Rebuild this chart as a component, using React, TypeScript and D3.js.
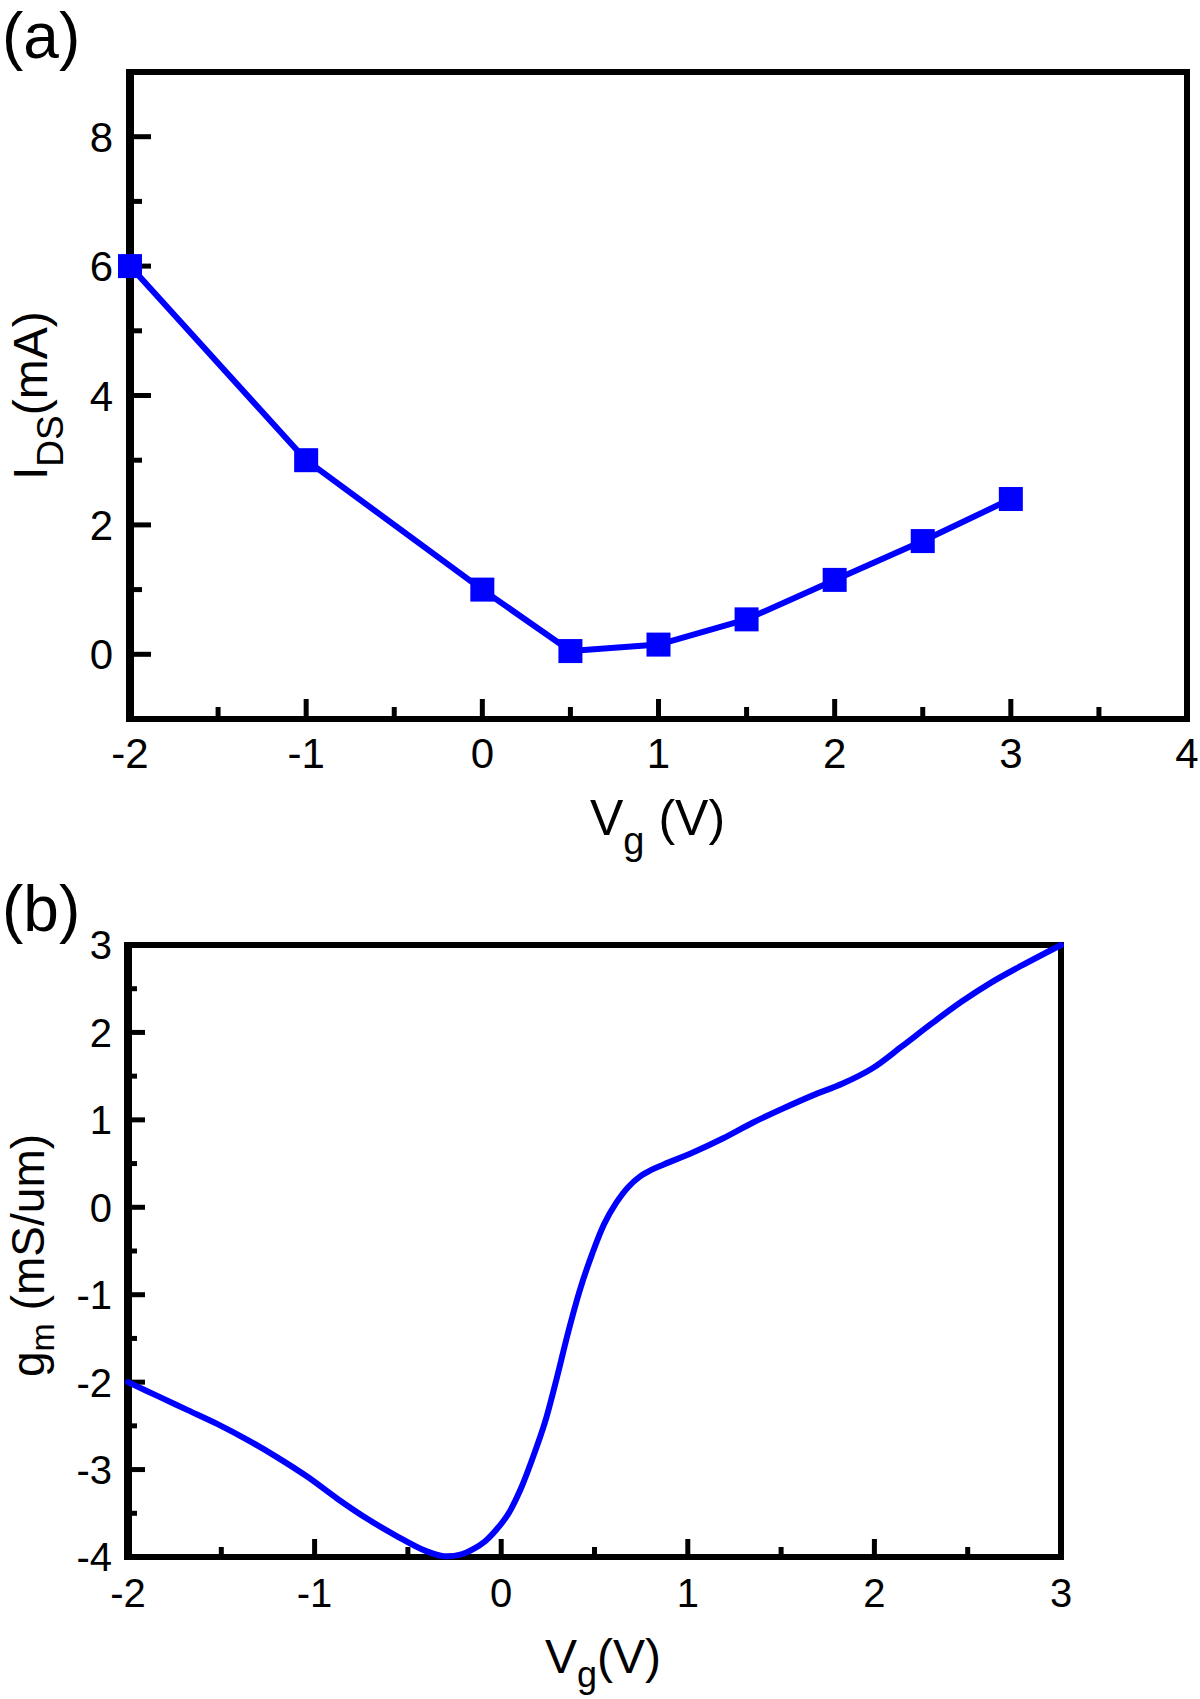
import React from "react";
import * as d3 from "d3";

// Panel (a): I_DS vs Vg
const vgA = [-2, -1, 0, 0.5, 1, 1.5, 2, 2.5, 3];
const idsA = [6.0, 3.0, 1.0, 0.05, 0.15, 0.54, 1.15, 1.75, 2.4];
const aYMajor = [0, 2, 4, 6, 8];
const aYMinor = [1, 3, 5, 7];
const aXMajor = [-2, -1, 0, 1, 2, 3, 4];
const aXMinor = [-1.5, -0.5, 0.5, 1.5, 2.5, 3.5];

// Panel (b): gm vs Vg
const vgB = [-2, -1.84, -1.68, -1.52, -1.36, -1.2, -1.04, -0.88, -0.72, -0.56, -0.405, -0.31, -0.214, -0.15, -0.086, 0.0, 0.04, 0.105, 0.17, 0.233, 0.297, 0.36, 0.424, 0.488, 0.552, 0.616, 0.68, 0.743, 0.807, 0.871, 1.03, 1.19, 1.35, 1.51, 1.67, 1.83, 1.99, 2.147, 2.306, 2.466, 2.625, 2.785, 3.0];
const gmB = [-2.0, -2.16, -2.32, -2.48, -2.66, -2.86, -3.08, -3.33, -3.56, -3.76, -3.93, -3.99, -3.97, -3.91, -3.82, -3.62, -3.5, -3.22, -2.86, -2.47, -1.96, -1.42, -0.93, -0.53, -0.19, 0.05, 0.23, 0.35, 0.43, 0.49, 0.63, 0.79, 0.97, 1.13, 1.28, 1.415, 1.59, 1.84, 2.1, 2.35, 2.57, 2.76, 3.0];
const bYLabels = [-4, -3, -2, -1, 0, 1, 2, 3];
const bYMajor = [-3, -2, -1, 0, 1, 2];
const bYMinor = [-3.5, -2.5, -1.5, -0.5, 0.5, 1.5, 2.5];
const bXLabels = [-2, -1, 0, 1, 2, 3];
const bXMajor = [-1, 0, 1, 2];
const bXMinor = [-1.5, -0.5, 0.5, 1.5, 2.5];

const FONT = "'Liberation Sans', Arial, Helvetica, sans-serif";
const BLUE = "#0000ff";

export default function App() {
  const xa = d3.scaleLinear().domain([-2, 4]).range([130, 1187]);
  const ya = d3.scaleLinear().domain([-1, 9]).range([719, 72]);
  const xb = d3.scaleLinear().domain([-2, 3]).range([128, 1061]);
  const yb = d3.scaleLinear().domain([-4, 3]).range([1557, 945]);

  const lineA = d3
    .line<number>()
    .x((_, i) => xa(vgA[i]))
    .y((d) => ya(d))(idsA);

  const lineB = d3
    .line<number>()
    .x((_, i) => xb(vgB[i]))
    .y((d) => yb(d))
    .curve(d3.curveCatmullRom.alpha(0.5))(gmB);

  const sq = 24;

  return (
    <svg
      width={1200}
      height={1699}
      style={{ position: "absolute", left: 0, top: 0, background: "#fff" }}
      fontFamily={FONT}
    >
      <rect x={0} y={0} width={1200} height={1699} fill="#fff" />

      {/* ---------- Panel (a) ---------- */}
      <text x={2} y={58} fontSize={64} fill="#000">(a)</text>

      {aYMajor.map((v) => (
        <line key={"aym" + v} x1={xa(-2)} x2={xa(-2) + 21} y1={ya(v)} y2={ya(v)} stroke="#000" strokeWidth={5} />
      ))}
      {aYMinor.map((v) => (
        <line key={"ayn" + v} x1={xa(-2)} x2={xa(-2) + 12} y1={ya(v)} y2={ya(v)} stroke="#000" strokeWidth={5} />
      ))}
      {aXMajor.map((v) => (
        <line key={"axm" + v} x1={xa(v)} x2={xa(v)} y1={ya(-1)} y2={ya(-1) - 20} stroke="#000" strokeWidth={5} />
      ))}
      {aXMinor.map((v) => (
        <line key={"axn" + v} x1={xa(v)} x2={xa(v)} y1={ya(-1)} y2={ya(-1) - 12} stroke="#000" strokeWidth={5} />
      ))}
      <rect
        x={xa(-2)}
        y={ya(9)}
        width={xa(4) - xa(-2)}
        height={ya(-1) - ya(9)}
        fill="none"
        stroke="#000"
        strokeWidth={6}
      />
      <line x1={xa(-2)} x2={xa(-2)} y1={ya(9) - 3} y2={ya(-1) + 3} stroke="#000" strokeWidth={8} />

      {aYMajor.map((v) => (
        <text key={"ayl" + v} x={113} y={ya(v)} dy="0.36em" textAnchor="end" fontSize={42}>
          {String(v)}
        </text>
      ))}
      {aXMajor.map((v) => (
        <text key={"axl" + v} x={xa(v)} y={768} textAnchor="middle" fontSize={42}>
          {String(v)}
        </text>
      ))}

      <path d={lineA || ""} fill="none" stroke={BLUE} strokeWidth={6} strokeLinejoin="round" />
      {vgA.map((v, i) => (
        <rect key={"sq" + i} x={xa(v) - sq / 2} y={ya(idsA[i]) - sq / 2} width={sq} height={sq} fill={BLUE} />
      ))}

      <text transform="translate(47,480) rotate(-90)" fontSize={48}>
        <tspan>I</tspan>
        <tspan fontSize={37} dy={16}>DS</tspan>
        <tspan dy={-16}>(mA)</tspan>
      </text>
      <text x={590} y={835} fontSize={50}>
        <tspan>V</tspan>
        <tspan fontSize={38} dy={19}>g</tspan>
        <tspan dy={-19}> (V)</tspan>
      </text>

      {/* ---------- Panel (b) ---------- */}
      <text x={2} y={931} fontSize={64} fill="#000">(b)</text>

      {bYMajor.map((v) => (
        <line key={"bym" + v} x1={xb(-2)} x2={xb(-2) + 17} y1={yb(v)} y2={yb(v)} stroke="#000" strokeWidth={5} />
      ))}
      {bYMinor.map((v) => (
        <line key={"byn" + v} x1={xb(-2)} x2={xb(-2) + 9} y1={yb(v)} y2={yb(v)} stroke="#000" strokeWidth={5} />
      ))}
      {bXMajor.map((v) => (
        <line key={"bxm" + v} x1={xb(v)} x2={xb(v)} y1={yb(-4)} y2={yb(-4) - 18} stroke="#000" strokeWidth={5} />
      ))}
      {bXMinor.map((v) => (
        <line key={"bxn" + v} x1={xb(v)} x2={xb(v)} y1={yb(-4)} y2={yb(-4) - 10} stroke="#000" strokeWidth={5} />
      ))}
      <rect
        x={xb(-2)}
        y={yb(3)}
        width={xb(3) - xb(-2)}
        height={yb(-4) - yb(3)}
        fill="none"
        stroke="#000"
        strokeWidth={6}
      />
      <line x1={xb(-2)} x2={xb(-2)} y1={yb(3) - 3} y2={yb(-4) + 3} stroke="#000" strokeWidth={8} />

      {bYLabels.map((v) => (
        <text key={"byl" + v} x={112} y={yb(v)} dy="0.36em" textAnchor="end" fontSize={40}>
          {String(v)}
        </text>
      ))}
      {bXLabels.map((v) => (
        <text key={"bxl" + v} x={xb(v)} y={1607} textAnchor="middle" fontSize={40}>
          {String(v)}
        </text>
      ))}

      <path d={lineB || ""} fill="none" stroke={BLUE} strokeWidth={6} strokeLinejoin="round" strokeLinecap="round" />

      <text transform="translate(44,1377) rotate(-90)" fontSize={46}>
        <tspan>g</tspan>
        <tspan fontSize={34} dy={10}>m</tspan>
        <tspan dy={-10}> (mS/um)</tspan>
      </text>
      <text x={545} y={1673} fontSize={48}>
        <tspan>V</tspan>
        <tspan fontSize={36} dy={14}>g</tspan>
        <tspan dy={-14}>(V)</tspan>
      </text>
    </svg>
  );
}
